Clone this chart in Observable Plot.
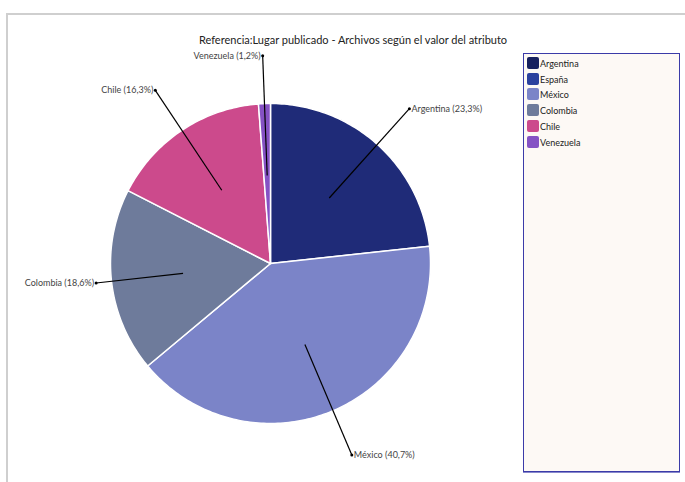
<!DOCTYPE html>
<html><head><meta charset="utf-8">
<script src="https://cdn.jsdelivr.net/npm/d3@7"></script>
<script src="https://cdn.jsdelivr.net/npm/@observablehq/plot@0.6"></script>
<style>
html,body{margin:0;padding:0;background:#fff;width:685px;height:482px;overflow:hidden;font-family:Lato,"Open Sans",sans-serif;}
#frameTop{position:absolute;left:6px;top:13px;width:679px;height:2px;background:#cfcfcf;}
#frameLeft{position:absolute;left:6px;top:13px;width:2px;height:469px;background:#cfcfcf;}
#title{position:absolute;left:0;top:33px;width:706px;text-align:center;font-size:11px;color:#222;}
#chart{position:absolute;left:0;top:0;}
#legend{position:absolute;left:523px;top:53px;width:155px;height:417px;border:1px solid #3b3ba8;box-shadow:0 1px 0 #8888cc;background:#fdf9f5;}
.item{position:absolute;left:3px;height:13px;font-size:9px;color:#222;line-height:13px;}
.sw{display:inline-block;width:12px;height:12px;border-radius:2px;vertical-align:top;margin-right:1px;}
</style></head>
<body>
<div id="frameTop"></div><div id="frameLeft"></div>
<div id="chart"></div>
<div id="title">Referencia:Lugar publicado - Archivos según el valor del atributo</div>
<div id="legend"></div>
<script>
const countries = ["Argentina","España","México","Colombia","Chile","Venezuela"];
const percents  = [23.3, 0, 40.7, 18.6, 16.3, 1.2];
const colors    = ["#1f2b78","#2b419e","#7b84c8","#6e7b9b","#cc4a8c","#8552c4"];
const legendColors = ["#16205e","#2b419e","#7b84c8","#6e7b9b","#cc4a8c","#8552c4"];

const total = d3.sum(percents);
const slices = [];
let acc = 0;
countries.forEach((c,i)=>{
  const a0 = acc/total*2*Math.PI;
  acc += percents[i];
  const a1 = acc/total*2*Math.PI;
  slices.push({country:c, pct:percents[i], a0, a1, mid:(a0+a1)/2});
});
const visible = slices.filter(s=>s.pct>0);

// polygon points per slice (angle clockwise from top; unit radius)
const pts = [];
visible.forEach(s=>{
  pts.push({country:s.country, x:0, y:0});
  const n = Math.max(2, Math.ceil((s.a1-s.a0)/(Math.PI/180)));
  for(let k=0;k<=n;k++){
    const a = s.a0 + (s.a1-s.a0)*k/n;
    pts.push({country:s.country, x:Math.sin(a), y:Math.cos(a)});
  }
});
const labels = visible.map(s=>{
  const sx = Math.sin(s.mid), cy = Math.cos(s.mid);
  const r = Math.min(1.3, 1.09/Math.max(Math.abs(sx),1e-6));
  return {
    country:s.country,
    x1:0.55*sx, y1:0.55*cy,
    x2:r*sx, y2:r*cy,
    right: sx >= 0,
    text: `${s.country} (${s.pct.toFixed(1).replace(".",",")}%)`
  };
});

const plot = Plot.plot({
  width:685, height:482,
  margin:0,
  x:{domain:[-1,1], range:[110,430], axis:null},
  y:{domain:[-1,1], range:[423,103], axis:null},
  color:{domain:countries, range:colors},
  style:{fontFamily:"Lato, 'Open Sans', sans-serif", background:"transparent"},
  marks:[
    Plot.line(pts,{x:"x", y:"y", z:"country", fill:"country", stroke:"#ffffff", strokeWidth:1.5, curve:"linear-closed"}),
    Plot.link(labels,{x1:"x1", y1:"y1", x2:"x2", y2:"y2", stroke:"#000", strokeWidth:1.2}),
    Plot.dot(labels,{x:"x2", y:"y2", r:1.5, fill:"#000"}),
    Plot.text(labels.filter(d=>d.right),{x:"x2", y:"y2", text:"text", textAnchor:"start", dx:2, fontSize:9, fill:"#444"}),
    Plot.text(labels.filter(d=>!d.right),{x:"x2", y:"y2", text:"text", textAnchor:"end", dx:-2, fontSize:9, fill:"#444"})
  ]
});
document.getElementById("chart").appendChild(plot);

const lg = document.getElementById("legend");
countries.forEach((c,i)=>{
  const it = document.createElement("div");
  it.className="item";
  it.style.top = (3 + i*15.7)+"px";
  it.innerHTML = `<span class="sw" style="background:${legendColors[i]}"></span>${c}`;
  lg.appendChild(it);
});
</script>
</body></html>
